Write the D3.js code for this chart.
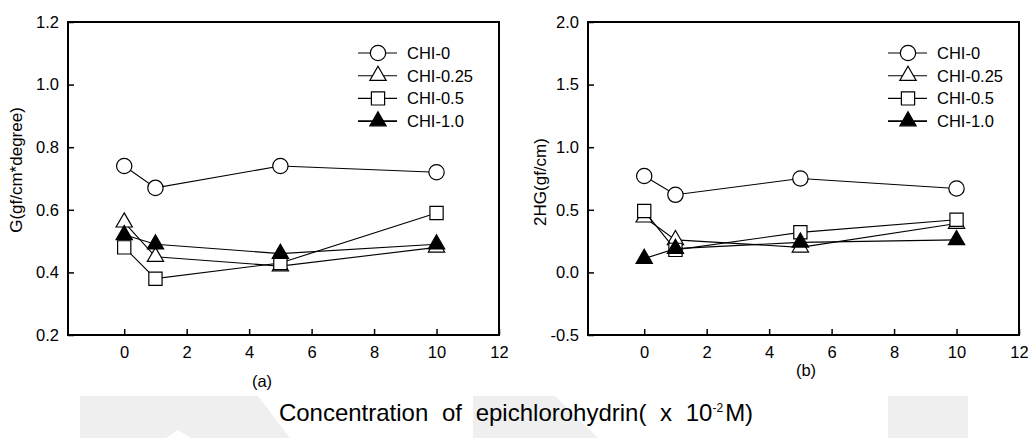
<!DOCTYPE html>
<html>
<head>
<meta charset="utf-8">
<script src="https://cdn.jsdelivr.net/npm/d3@7/dist/d3.min.js"></script>
<style>
  body { margin: 0; background: #fff; }
  svg text { font-family: "Liberation Sans", Arial, sans-serif; fill: #000; }
</style>
</head>
<body>
<div id="chart"></div>
<script>
// epichlorohydrin concentration (x 10^-2 M)
const conc = [0, 1, 5, 10];
const seriesNames = ["CHI-0", "CHI-0.25", "CHI-0.5", "CHI-1.0"];
const seriesShapes = ["circle", "triangle", "square", "triangleFilled"];

// panel (a): G (gf/cm*degree)
const gChi0   = [0.74, 0.67, 0.74, 0.72];
const gChi025 = [0.56, 0.45, 0.42, 0.48];
const gChi05  = [0.48, 0.38, 0.43, 0.59];
const gChi10  = [0.52, 0.49, 0.46, 0.49];

// panel (b): 2HG (gf/cm)
const hChi0   = [0.77, 0.62, 0.75, 0.67];
const hChi025 = [0.44, 0.26, 0.20, 0.39];
const hChi05  = [0.49, 0.18, 0.32, 0.42];
const hChi10  = [0.11, 0.19, 0.24, 0.26];

const xTicks = [0, 2, 4, 6, 8, 10, 12];
const gTicks = [0.2, 0.4, 0.6, 0.8, 1.0, 1.2];
const hTicks = [-0.5, 0.0, 0.5, 1.0, 1.5, 2.0];

const width = 1031, height = 438;

const svg = d3.select("#chart")
  .append("svg")
  .attr("width", width)
  .attr("height", height);

// faint watermark blocks along the bottom
const wm = svg.append("g").attr("fill", "#efefef");
wm.append("polygon").attr("points", "80,396 258,396 290,438 80,438");
wm.append("polygon").attr("points", "166,438 178,430 191,438").attr("fill", "#fff");
wm.append("polygon").attr("points", "473,396 555,396 598,438 473,438");
wm.append("rect").attr("x", 888).attr("y", 396).attr("width", 80).attr("height", 42);

const symbolPath = {
  circle: d3.symbol().type(d3.symbolCircle).size(185)(),
  triangle: d3.symbol().type(d3.symbolTriangle).size(115)(),
  triangleFilled: d3.symbol().type(d3.symbolTriangle).size(115)(),
  square: d3.symbol().type(d3.symbolSquare).size(175)()
};

const fmt1 = v => d3.format(".1f")(v).replace("\u2212", "-");

function drawPanel(opts) {
  const x = d3.scaleLinear().domain([-1.8, 12]).range([opts.left, opts.left + 431]);
  const y = d3.scaleLinear().domain(opts.yDomain).range([335, 22]);

  const g = svg.append("g");

  g.append("g")
    .attr("transform", "translate(0,335)")
    .call(d3.axisBottom(x).tickValues(xTicks).tickSizeInner(-6).tickSizeOuter(0).tickPadding(11).tickFormat(d3.format("d")))
    .call(a => a.select(".domain").remove())
    .call(a => a.selectAll("line").attr("stroke-width", 1.5))
    .call(a => a.selectAll("text").attr("font-size", 16.5).attr("font-family", null));

  g.append("g")
    .attr("transform", `translate(${opts.left},0)`)
    .call(d3.axisLeft(y).tickValues(opts.yTicks).tickSizeInner(-6).tickSizeOuter(0).tickPadding(9).tickFormat(fmt1))
    .call(a => a.select(".domain").remove())
    .call(a => a.selectAll("line").attr("stroke-width", 1.5))
    .call(a => a.selectAll("text").attr("font-size", 16.5).attr("font-family", null));

  g.append("rect")
    .attr("x", x.range()[0]).attr("y", 22)
    .attr("width", x.range()[1] - x.range()[0]).attr("height", 313)
    .attr("fill", "none").attr("stroke", "#000").attr("stroke-width", 2);

  const line = d3.line().x((d, i) => x(conc[i])).y(d => y(d));

  opts.series.forEach((vals, k) => {
    g.append("path")
      .attr("d", line(vals))
      .attr("fill", "none")
      .attr("stroke", "#000")
      .attr("stroke-width", 1.1);
    const shape = seriesShapes[k];
    g.selectAll(null)
      .data(vals)
      .enter()
      .append("path")
      .attr("d", symbolPath[shape])
      .attr("transform", (d, i) => `translate(${x(conc[i])},${y(d)})`)
      .attr("fill", shape === "triangleFilled" ? "#000" : "#fff")
      .attr("stroke", "#000")
      .attr("stroke-width", 1.2);
  });

  // legend
  const leg = g.append("g").attr("transform", `translate(${opts.legX},53)`);
  seriesNames.forEach((name, k) => {
    const row = leg.append("g").attr("transform", `translate(0,${k * 22.7})`);
    row.append("line").attr("x1", 0).attr("x2", 39).attr("stroke", "#000")
      .attr("stroke-width", k === 3 ? 1.8 : 1.1);
    row.append("path")
      .attr("d", symbolPath[seriesShapes[k]])
      .attr("transform", "translate(20,0)")
      .attr("fill", seriesShapes[k] === "triangleFilled" ? "#000" : "#fff")
      .attr("stroke", "#000").attr("stroke-width", 1.2);
    row.append("text").attr("x", 49).attr("dy", "0.36em")
      .attr("font-size", 16.5).text(name);
  });

  g.append("text")
    .attr("transform", `translate(${opts.titleX},${opts.titleY}) rotate(-90)`)
    .attr("text-anchor", "middle")
    .attr("font-size", 17)
    .text(opts.yTitle);

  g.append("text")
    .attr("x", opts.tagX).attr("y", opts.tagY)
    .attr("text-anchor", "middle")
    .attr("font-size", 16.5)
    .text(opts.tag);
}

drawPanel({
  left: 68, yDomain: [0.2, 1.2], yTicks: gTicks,
  series: [gChi0, gChi025, gChi05, gChi10],
  legX: 358, yTitle: "G(gf/cm*degree)", titleX: 22, titleY: 170,
  tag: "(a)", tagX: 262, tagY: 387
});

drawPanel({
  left: 588, yDomain: [-0.5, 2.0], yTicks: hTicks,
  series: [hChi0, hChi025, hChi05, hChi10],
  legX: 888, yTitle: "2HG(gf/cm)", titleX: 546, titleY: 182,
  tag: "(b)", tagX: 806, tagY: 376
});

// shared x title
const title = svg.append("text")
  .attr("x", 516).attr("y", 421)
  .attr("text-anchor", "middle")
  .attr("font-size", 24)
  .attr("word-spacing", 7);
title.append("tspan").text("Concentration of epichlorohydrin( x 10");
title.append("tspan").attr("dy", -9).attr("font-size", 12).text("-2");
title.append("tspan").attr("dy", 9).attr("dx", 2).text("M)");
</script>
</body>
</html>
